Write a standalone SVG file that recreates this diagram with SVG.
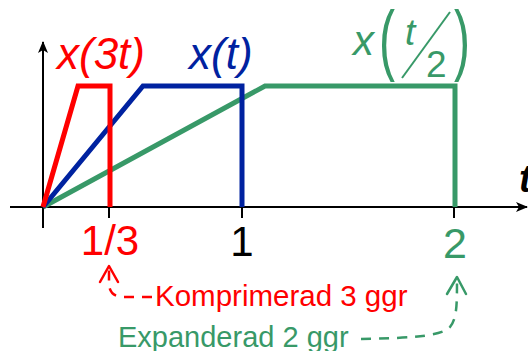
<svg xmlns="http://www.w3.org/2000/svg" width="528" height="351" viewBox="0 0 528 351">
<style>
text{font-family:"Liberation Sans",Arial,sans-serif}
.it{font-style:italic}
.red{fill:#FF0000}
.blue{fill:#0022A0}
.green{fill:#389968}
.blk{fill:#000}
.axis{stroke:#000;stroke-width:2;fill:none}
.sig{fill:none;stroke-width:5;stroke-linejoin:miter}
.dash{fill:none;stroke-width:2.5;stroke-dasharray:10 8}
.head{fill:none;stroke-width:2.5;stroke-linecap:round;stroke-linejoin:round}
</style>
<defs>
<marker id="ax" viewBox="0 0 12 10" refX="11" refY="5" markerWidth="12" markerHeight="10" markerUnits="userSpaceOnUse" orient="auto">
<path d="M0,0 L12,5 L0,10 L3,5 Z" fill="#000"/>
</marker>
</defs>
<g id="axes">
<line class="axis" x1="10" y1="207" x2="527" y2="207" marker-end="url(#ax)"/>
<line class="axis" x1="43" y1="228" x2="43" y2="42" marker-end="url(#ax)"/>
<line class="axis" x1="109" y1="207" x2="109" y2="218" stroke-width="3"/>
<line class="axis" x1="242" y1="207" x2="242" y2="218" stroke-width="3"/>
<line class="axis" x1="454" y1="207" x2="454" y2="218" stroke-width="3"/>
<text class="it blk" x="519" y="192" font-size="38" font-weight="bold">t</text>
</g>
<g id="signal-green">
<polyline class="sig" stroke="#389968" points="43,207 265,86 455,86 455,207"/>
</g>
<g id="signal-blue">
<polyline class="sig" stroke="#0022A0" points="43,207 143,86 242,86 242,207"/>
</g>
<g id="signal-red">
<polyline class="sig" stroke="#FF0000" stroke-width="4.5" points="43,207 78,86 110,86 110,207"/>
</g>
<g id="label-red">
<text class="it red" x="57" y="69" font-size="44">x(3t)</text>
</g>
<g id="label-blue">
<text class="it blue" x="189" y="69" font-size="44">x(t)</text>
</g>
<g id="label-green">
<text class="it green" x="353" y="55" font-size="42">x</text>
<text class="green" transform="translate(379,66) scale(1.2,1.95)" font-size="40">(</text>
<text class="it green" x="405" y="45" font-size="37">t</text>
<line x1="450" y1="12" x2="402" y2="78" stroke="#389968" stroke-width="2"/>
<text class="green" x="426" y="77" font-size="37">2</text>
<text class="green" transform="translate(454,66) scale(1.2,1.95)" font-size="40">)</text>
</g>
<g id="ticklabels">
<text class="red" x="110" y="255" font-size="42" text-anchor="middle">1/3</text>
<text class="blk" x="242" y="256" font-size="42" text-anchor="middle">1</text>
<text class="green" x="455" y="258" font-size="43" text-anchor="middle">2</text>
</g>
<g id="note-red">
<text class="red" x="155" y="306" font-size="29.5">Komprimerad 3 ggr</text>
</g>
<g id="note-green">
<text class="green" x="118" y="347" font-size="29">Expanderad 2 ggr</text>
</g>
<g id="connectors">
<path class="dash" stroke="#FF0000" d="M152,297 L124,297 Q109,297 109,283 L109,267"/>
<polyline class="head" stroke="#FF0000" points="100,282 109,266 118,282"/>
<path class="dash" stroke="#389968" d="M361,339 C420,338 443,335 450,327 C457,318 457,305 457,278"/>
<polyline class="head" stroke="#389968" points="447,294 457,277 466,294"/>
</g>
</svg>
